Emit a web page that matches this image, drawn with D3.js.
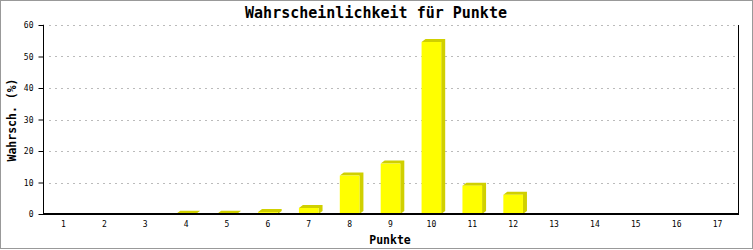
<!DOCTYPE html>
<html>
<head>
<meta charset="utf-8">
<script src="https://cdn.jsdelivr.net/npm/d3@7"></script>
<style>
  body { margin: 0; background: #fff; }
  svg text { font-family: "DejaVu Sans Mono", "Liberation Mono", monospace; }
</style>
</head>
<body>
<script>
// data
const punkte = [1, 2, 3, 4, 5, 6, 7, 8, 9, 10, 11, 12, 13, 14, 15, 16, 17];
const wahrsch = [0, 0, 0, 0.1, 0.1, 0.6, 1.9, 12.2, 16.0, 54.6, 9.0, 6.1, 0, 0, 0, 0, 0];
const yTicks = [0, 10, 20, 30, 40, 50, 60];

const w = 753, h = 250;
const pL = 43, pR = 738, pT = 25, pB = 214;
const depthX = 4, depthY = 3;

const svg = d3.select("body").append("svg").attr("width", w).attr("height", h);

// outer frame
svg.append("rect").attr("x", 0.5).attr("y", 0.5).attr("width", w - 1).attr("height", h - 2)
  .attr("fill", "#fff").attr("stroke", "#999");

const x = d3.scaleBand().domain(punkte).range([pL, pR]).paddingInner(0.52).paddingOuter(0.26);
const y = d3.scaleLinear().domain([0, 60]).range([pB, pT]);

// grid
svg.append("g").selectAll("line").data(yTicks.filter(d => d > 0)).enter().append("line")
  .attr("x1", pL + 6).attr("x2", pR - 2)
  .attr("y1", d => Math.round(y(d)) + 0.5).attr("y2", d => Math.round(y(d)) + 0.5)
  .attr("stroke", "#bbb").attr("stroke-dasharray", "2,4");

// right frame line
svg.append("line").attr("x1", pR + 0.5).attr("x2", pR + 0.5).attr("y1", pT).attr("y2", pB)
  .attr("stroke", "#000");

// bars (front + side + top)
const bars = svg.append("g").selectAll("g").data(punkte.map((p, i) => ({p, v: wahrsch[i]})).filter(d => d.v > 0))
  .enter().append("g");
bars.append("polygon")
  .attr("points", d => {
    const x0 = x(d.p), x1 = x0 + x.bandwidth(), yt = y(d.v);
    return [[x0, yt], [x0 + depthX, yt - depthY], [x1 + depthX, yt - depthY], [x1 + depthX, pB - depthY], [x1, pB], [x1, yt]].join(" ");
  })
  .attr("fill", "#d0d000");
bars.append("rect")
  .attr("x", d => x(d.p)).attr("y", d => y(d.v))
  .attr("width", x.bandwidth()).attr("height", d => pB - y(d.v))
  .attr("fill", "#ffff00");

// y axis
const yAxis = d3.axisLeft(y).tickValues(yTicks).tickSize(5).tickPadding(5);
const gy = svg.append("g").attr("transform", `translate(${pL + 0.5},0)`).call(yAxis);
gy.select(".domain").attr("d", `M-0.5,${pT}H0V${pB}`);
gy.selectAll("text").style("font-size", "8px").attr("fill", "#000");

// x axis
const xAxis = d3.axisBottom(x).tickSize(0).tickPadding(7);
const gx = svg.append("g").attr("transform", `translate(0,${pB})`).call(xAxis);
gx.select(".domain").attr("d", `M${pL},0H${pR + 1}`).attr("stroke-width", 2);
gx.selectAll("text").style("font-size", "8px").attr("fill", "#000");

// titles
svg.append("text").attr("x", 376).attr("y", 18).attr("text-anchor", "middle")
  .style("font-size", "15px").style("font-weight", "bold").text("Wahrscheinlichkeit für Punkte");
svg.append("text").attr("x", 390).attr("y", 244).attr("text-anchor", "middle")
  .style("font-size", "11.5px").style("font-weight", "bold").text("Punkte");
svg.append("text").attr("transform", "translate(16,120) rotate(-90)").attr("text-anchor", "middle")
  .style("font-size", "11.5px").style("font-weight", "bold").text("Wahrsch. (%)");
</script>
</body>
</html>
